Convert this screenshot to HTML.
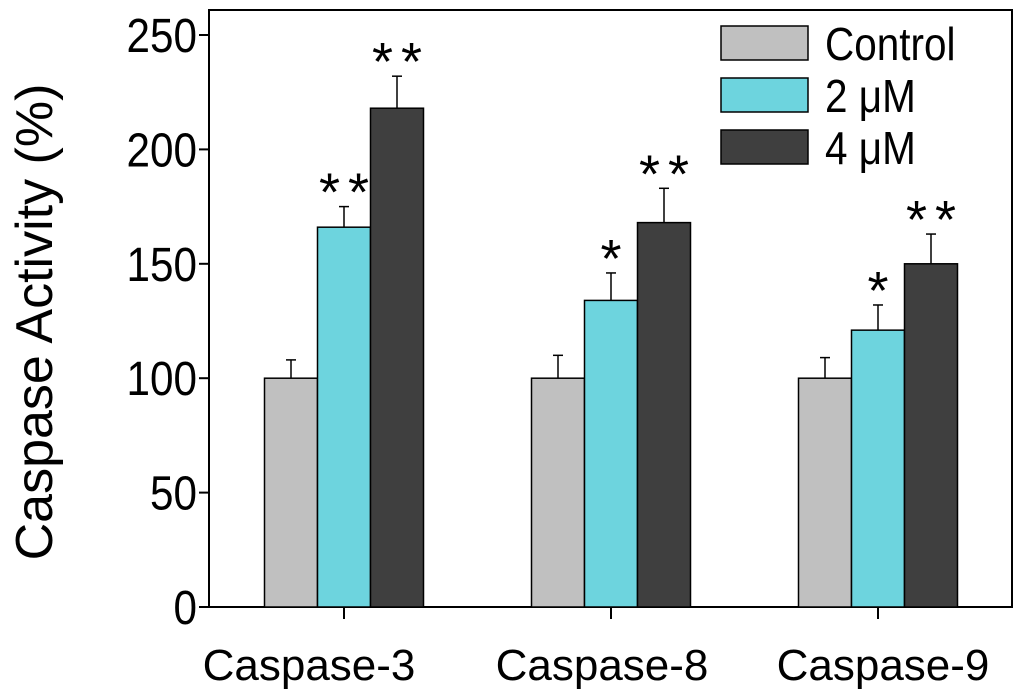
<!DOCTYPE html>
<html><head><meta charset="utf-8"><style>
body{margin:0;background:#fff}
svg{display:block}
text{font-family:"Liberation Sans",sans-serif;fill:#000}
</style></head><body>
<svg width="1024" height="694" xmlns="http://www.w3.org/2000/svg">
<g id="plot"></g>
</svg>
<script>
const categories=["Caspase-3","Caspase-8","Caspase-9"];
const seriesNames=["Control","2 μM","4 μM"];
const controlVals=[100,100,100];
const low2Vals=[166,134,121];
const high4Vals=[218,168,150];
const controlErr=[8,10,9];
const low2Err=[9,12,11];
const high4Err=[14,15,13];
const stars2=["**","*","*"];
const stars4=["**","**","**"];
const yTicks=[0,50,100,150,200,250];

const labelShift=[-35,-9,5];
const colors=["#c0c0c0","#6dd4de","#3f3f3f"];
const X0=209,X1=1012,Y0=607,Ytop=10;
const y=v=>Y0-v*(572/250);
const groupC=i=>344+i*267;
const barW=53;
const NS="http://www.w3.org/2000/svg";
const g=document.getElementById('plot');
function mk(t,a,txt){const e=document.createElementNS(NS,t);for(const k in a)e.setAttribute(k,a[k]);if(txt!==undefined)e.textContent=txt;g.appendChild(e);return e;}

const frame=mk('rect',{x:X0,y:Ytop,width:X1-X0,height:Y0-Ytop,fill:'none',stroke:'#000','stroke-width':2});



yTicks.forEach(t=>{
  const l=mk('line',{x1:X0-10,x2:X0,y1:y(t),y2:y(t),stroke:'#000','stroke-width':2});
  
  
  const tx=mk('text',{x:0,y:0,'text-anchor':'end','font-size':48,transform:`translate(${X0-12},${y(t)+17}) scale(0.88,1)`},String(t));
  
  
});
const yt=mk('text',{x:0,y:0,'text-anchor':'middle','font-size':52,transform:'translate(52,322) rotate(-90)'},'Caspase Activity (%)');



const all=[controlVals,low2Vals,high4Vals],errs=[controlErr,low2Err,high4Err];
categories.forEach((c,i)=>{
  const cx=groupC(i);
  const tk=mk('line',{x1:cx,x2:cx,y1:Y0,y2:Y0+12,stroke:'#000','stroke-width':2});
  
  
  const lb=mk('text',{x:cx+labelShift[i],y:680,'text-anchor':'middle','font-size':44},c);
  
  
  all.forEach((vals,s)=>{
    const bx=cx-1.5*barW+s*barW, v=vals[i];
    const e=errs[s][i], mid=bx+barW/2;
    const el=mk('line',{x1:mid,x2:mid,y1:y(v),y2:y(v+e),stroke:'#000','stroke-width':1.5});
    
    
    const ec=mk('line',{x1:mid-5,x2:mid+5,y1:y(v+e),y2:y(v+e),stroke:'#000','stroke-width':1.5});
    
    
    const r=mk('rect',{x:bx,y:y(v),width:barW,height:Y0-y(v),fill:colors[s],stroke:'#000','stroke-width':1.5});
    
    
    if(s>0){
      const st=(s===1?stars2:stars4)[i];
      const sx=mk('text',{x:mid+4,y:y(v+e)+4,'text-anchor':'middle','font-size':54,'letter-spacing':8},st);
      
      
    }
  });
});

seriesNames.forEach((n,s)=>{
  const ly=26+s*52;
  const r=mk('rect',{x:721,y:ly,width:87,height:34,fill:colors[s],stroke:'#000','stroke-width':1.5});
  
  
  const t=mk('text',{x:0,y:0,'font-size':46,transform:`translate(825,${ly+34}) scale(0.88,1)`},n);
  
  
});
</script>
</body></html>
